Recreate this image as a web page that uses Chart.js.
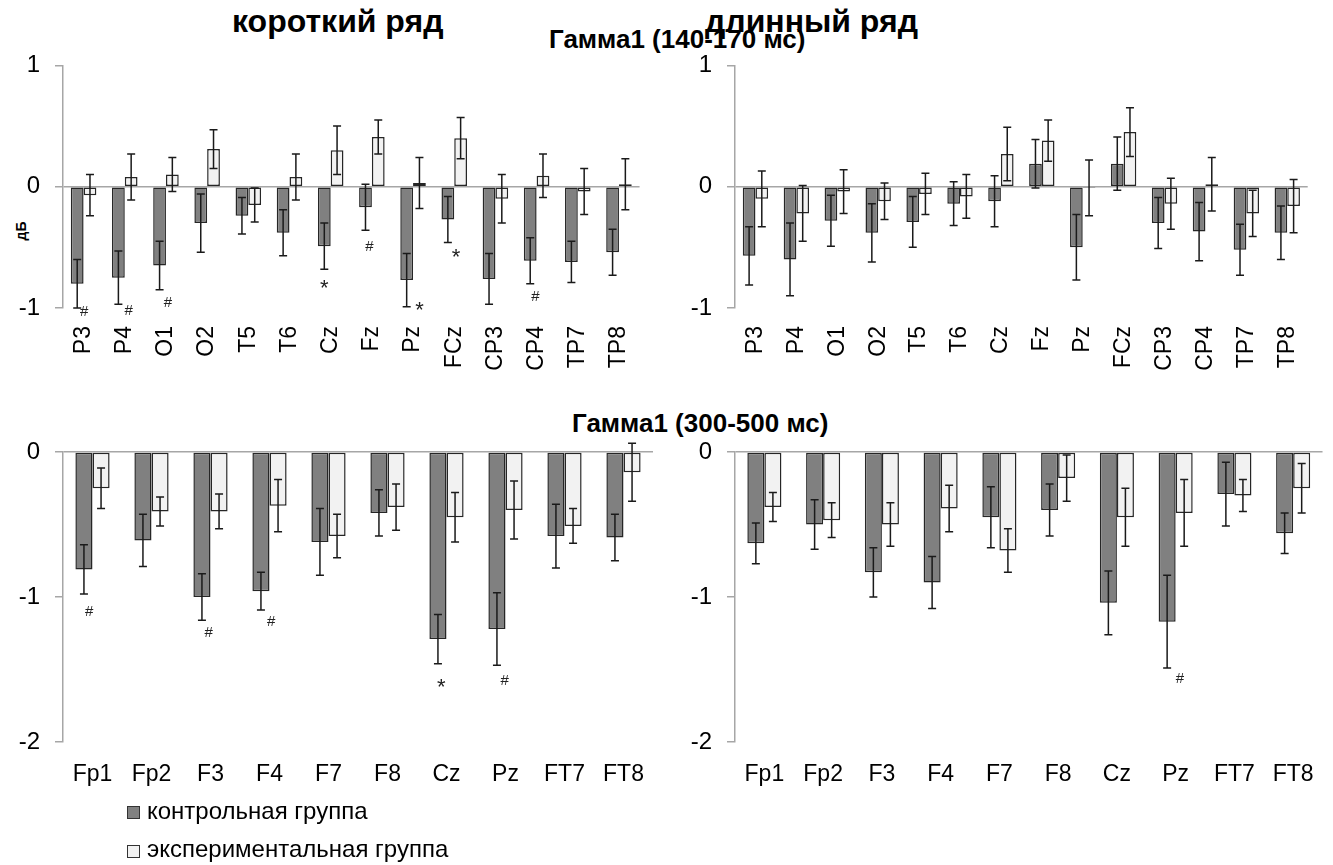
<!DOCTYPE html>
<html>
<head>
<meta charset="utf-8">
<script src="https://cdn.jsdelivr.net/npm/chart.js@4.4.0/dist/chart.umd.min.js"></script>
<style>
  body { margin: 0; background: #fff; width: 1333px; height: 865px; position: relative; overflow: hidden;
         font-family: "Liberation Sans", Arial, sans-serif; color: #000; }
  canvas { position: absolute; }
  .t { position: absolute; white-space: nowrap; line-height: 1; font-weight: bold; }
  .leg { position: absolute; white-space: nowrap; line-height: 1; font-size: 24px; }
  .sq { position: absolute; width: 11px; height: 11px; border: 1px solid #333; }
</style>
</head>
<body>
<div class="t" style="left:232px;top:5px;font-size:32px">короткий ряд</div>
<div class="t" style="left:705px;top:5px;font-size:32px">длинный ряд</div>
<div class="t" style="left:549px;top:26px;font-size:26px">Гамма1 (140-170 мс)</div>
<div class="t" style="left:572px;top:410px;font-size:26px">Гамма1 (300-500 мс)</div>
<div class="t" style="left:12px;top:224px;font-size:14px;transform:rotate(-90deg);transform-origin:50% 50%">дБ</div>

<canvas id="c1" width="665" height="344" style="left:0;top:36px"></canvas>
<canvas id="c2" width="661" height="344" style="left:672px;top:36px"></canvas>
<canvas id="c3" width="665" height="380" style="left:0;top:420px"></canvas>
<canvas id="c4" width="661" height="380" style="left:672px;top:420px"></canvas>

<div class="sq" style="left:127px;top:806px;background:#808080"></div>
<div class="leg" style="left:147px;top:799px">контрольная группа</div>
<div class="sq" style="left:127px;top:845px;background:#f2f2f2"></div>
<div class="leg" style="left:147px;top:837px">экспериментальная группа</div>

<script>
// electrodes
const labelsEarly = ["P3", "P4", "O1", "O2", "T5", "T6", "Cz", "Fz", "Pz", "FCz", "CP3", "CP4", "TP7", "TP8"];
const labelsLate = ["Fp1", "Fp2", "F3", "F4", "F7", "F8", "Cz", "Pz", "FT7", "FT8"];

// Гамма1 140-170 мс, короткий ряд
const shortEarlyCtrl = [-0.80, -0.75, -0.65, -0.30, -0.24, -0.38, -0.49, -0.17, -0.77, -0.27, -0.76, -0.61, -0.62, -0.54];
const shortEarlyCtrlErr = [0.20, 0.22, 0.20, 0.24, 0.15, 0.19, 0.19, 0.19, 0.22, 0.19, 0.21, 0.19, 0.17, 0.19];
const shortEarlyExp = [-0.07, 0.08, 0.10, 0.31, -0.15, 0.08, 0.30, 0.41, 0.03, 0.40, -0.10, 0.09, -0.04, 0.02];
const shortEarlyExpErr = [0.17, 0.19, 0.14, 0.16, 0.14, 0.19, 0.20, 0.14, 0.21, 0.17, 0.20, 0.18, 0.19, 0.21];

// Гамма1 140-170 мс, длинный ряд
const longEarlyCtrl = [-0.57, -0.60, -0.28, -0.38, -0.29, -0.14, -0.12, 0.19, -0.50, 0.19, -0.30, -0.37, -0.52, -0.38];
const longEarlyCtrlErr = [0.24, 0.30, 0.21, 0.24, 0.21, 0.18, 0.21, 0.20, 0.27, 0.22, 0.21, 0.24, 0.21, 0.22];
const longEarlyExp = [-0.10, -0.22, -0.04, -0.12, -0.06, -0.08, 0.27, 0.38, -0.01, 0.45, -0.14, 0.02, -0.22, -0.16];
const longEarlyExpErr = [0.23, 0.23, 0.18, 0.15, 0.17, 0.18, 0.22, 0.17, 0.23, 0.20, 0.21, 0.22, 0.19, 0.22];

// Гамма1 300-500 мс, короткий ряд
const shortLateCtrl = [-0.81, -0.61, -1.00, -0.96, -0.62, -0.42, -1.29, -1.22, -0.58, -0.59];
const shortLateCtrlErr = [0.17, 0.18, 0.16, 0.13, 0.23, 0.16, 0.17, 0.25, 0.22, 0.16];
const shortLateExp = [-0.25, -0.41, -0.41, -0.37, -0.58, -0.38, -0.45, -0.40, -0.51, -0.14];
const shortLateExpErr = [0.14, 0.10, 0.12, 0.18, 0.15, 0.16, 0.17, 0.20, 0.12, 0.20];

// Гамма1 300-500 мс, длинный ряд
const longLateCtrl = [-0.63, -0.50, -0.83, -0.90, -0.45, -0.40, -1.04, -1.17, -0.29, -0.56];
const longLateCtrlErr = [0.14, 0.17, 0.17, 0.18, 0.21, 0.18, 0.22, 0.32, 0.22, 0.14];
const longLateExp = [-0.38, -0.47, -0.50, -0.39, -0.68, -0.18, -0.45, -0.42, -0.30, -0.25];
const longLateExpErr = [0.10, 0.12, 0.15, 0.16, 0.15, 0.16, 0.20, 0.23, 0.11, 0.17];

// significance marks: [electrode index, symbol, value level, 0 = under control bar .. 1 = under exp bar]
const shortEarlyMarks = [[0, "#", -1.03, 0.55], [1, "#", -1.02, 0.8], [2, "#", -0.96, 0.65], [6, "*", -0.80, 0],
  [7, "#", -0.50, 0.3], [8, "*", -0.985, 1], [9, "*", -0.55, 0.65], [11, "#", -0.91, 0.4]];
const longEarlyMarks = [];
const shortLateMarks = [[0, "#", -1.10, 0.3], [2, "#", -1.25, 0.4], [3, "#", -1.17, 0.6], [6, "*", -1.59, 0.2], [7, "#", -1.58, 0.45]];
const longLateMarks = [[7, "#", -1.565, 0.75]];

const FONT = "'Liberation Sans', Arial, sans-serif";

const errorBars = {
  id: "errorBars",
  afterDatasetsDraw(chart) {
    const ctx = chart.ctx;
    const y = chart.scales.y;
    ctx.save();
    ctx.strokeStyle = "#1a1a1a";
    ctx.lineWidth = 1.5;
    chart.data.datasets.forEach((ds, di) => {
      chart.getDatasetMeta(di).data.forEach((bar, i) => {
        const top = y.getPixelForValue(ds.data[i] + ds.errors[i]);
        const bot = y.getPixelForValue(ds.data[i] - ds.errors[i]);
        ctx.beginPath();
        ctx.moveTo(bar.x, top); ctx.lineTo(bar.x, bot);
        ctx.moveTo(bar.x - 4, top); ctx.lineTo(bar.x + 4, top);
        ctx.moveTo(bar.x - 4, bot); ctx.lineTo(bar.x + 4, bot);
        ctx.stroke();
      });
    });
    // # and * marks
    const c = chart.getDatasetMeta(0).data, e = chart.getDatasetMeta(1).data;
    ctx.fillStyle = "#222";
    ctx.textAlign = "center";
    ctx.textBaseline = "middle";
    chart.options.plugins.errorBars.marks.forEach(([i, sym, v, f]) => {
      const x = c[i].x + f * (e[i].x - c[i].x);
      let py = y.getPixelForValue(v);
      if (sym === "*") { ctx.font = "22px " + FONT; py += 5; }
      else ctx.font = "15px " + FONT;
      ctx.fillText(sym, x, py);
    });
    ctx.restore();
  }
};

function makeChart(id, labels, ctrl, ctrlErr, exp, expErr, marks, yMin, padTop, padRight, xHeight, rotated, catPct, xPad) {
  return new Chart(document.getElementById(id), {
    type: "bar",
    data: {
      labels: labels,
      datasets: [
        { label: "контрольная группа", data: ctrl, errors: ctrlErr, backgroundColor: "#808080" },
        { label: "экспериментальная группа", data: exp, errors: expErr, backgroundColor: "#f2f2f2" }
      ]
    },
    options: {
      responsive: false,
      animation: false,
      layout: { padding: { top: padTop, right: padRight, left: 0, bottom: 0 } },
      datasets: { bar: { borderColor: "#262626", borderWidth: 1.5, borderSkipped: false, categoryPercentage: catPct, barPercentage: 1 } },
      plugins: { legend: { display: false }, tooltip: { enabled: false }, errorBars: { marks: marks } },
      scales: {
        x: {
          grid: { display: false, drawTicks: false },
          border: { display: false },
          ticks: {
            color: "#000", font: { family: FONT, size: 23 }, padding: xPad, autoSkip: false,
            minRotation: rotated ? 90 : 0, maxRotation: rotated ? 90 : 0
          },
          afterFit: (s) => { s.height = xHeight; }
        },
        y: {
          min: yMin, max: yMin + 2,
          grid: {
            color: (ctx) => (ctx.tick && ctx.tick.value === 0 ? "#a6a6a6" : "rgba(0,0,0,0)"),
            lineWidth: 1.5, tickLength: 8, tickColor: "#a6a6a6"
          },
          border: { display: true, color: "#a6a6a6", width: 1.5 },
          ticks: { stepSize: 1, color: "#000", font: { family: FONT, size: 24 }, padding: 15 },
          afterFit: (s) => { s.width = 63; }
        }
      }
    },
    plugins: [errorBars]
  });
}

makeChart("c1", labelsEarly, shortEarlyCtrl, shortEarlyCtrlErr, shortEarlyExp, shortEarlyExpErr, shortEarlyMarks, -1, 10, 12, 72, true, 0.62, 18);
makeChart("c2", labelsEarly, longEarlyCtrl, longEarlyCtrlErr, longEarlyExp, longEarlyExpErr, longEarlyMarks, -1, 10, 4, 72, true, 0.62, 18);
makeChart("c3", labelsLate, shortLateCtrl, shortLateCtrlErr, shortLateExp, shortLateExpErr, shortLateMarks, -2, 32, 12, 58, false, 0.58, 19);
makeChart("c4", labelsLate, longLateCtrl, longLateCtrlErr, longLateExp, longLateExpErr, longLateMarks, -2, 32, 8, 58, false, 0.58, 19);
</script>
</body>
</html>
